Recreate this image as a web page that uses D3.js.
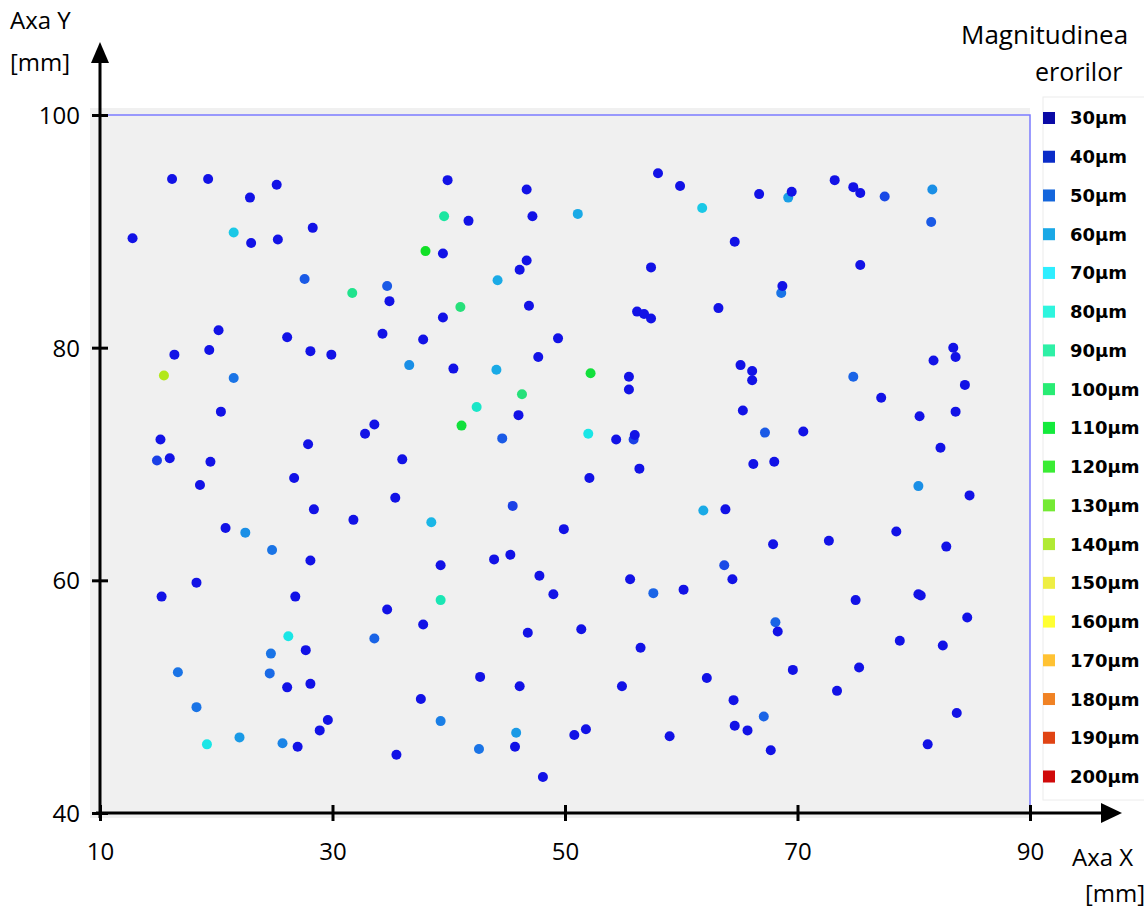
<!DOCTYPE html>
<html>
<head>
<meta charset="utf-8">
<script src="https://cdn.jsdelivr.net/npm/d3@7"></script>
<style>
  html, body { margin: 0; padding: 0; background: #fff; }
  svg { display: block; }
  text { font-family: "Open Sans", sans-serif; fill: #000; }
  .legend-label { font-family: "DejaVu Sans", sans-serif; font-weight: bold; }
</style>
</head>
<body>
<div id="chart"></div>
<script>

var xTicks = [10, 30, 50, 70, 90];
var yTicks = [40, 60, 80, 100];

var legendValues = [30, 40, 50, 60, 70, 80, 90, 100, 110, 120, 130, 140,
  150, 160, 170, 180, 190, 200];
var legendColors = ['#0a0aa6', '#0a2cc8', '#1466dc', '#1aa8e6', '#2eeeff',
  '#2ef5de', '#2ef0a6', '#28ec74', '#14ea3c', '#3aec34', '#74ea34',
  '#b0ea34', '#eeee44', '#ffff33', '#ffc233', '#f08224', '#e04414',
  '#d00a0a'];

// Colours the points are drawn in, keyed by error (µm).
var dotStops = [30, 40, 50, 60, 70, 80, 90, 100, 110, 120, 140, 160, 180,
  200];
var dotColors = ['#1212e6', '#1a40e6', '#1a74e6', '#1aaae6', '#1ae6e6',
  '#1ae6c8', '#1ae6a0', '#26e07a', '#12e03c', '#10e010', '#b2e81a',
  '#ffff30', '#f08020', '#d00000'];

// [x mm, y mm, error µm]
var points = [
  [16.2, 94.5, 30], [19.3, 94.5, 30], [22.9, 92.9, 30], [25.2, 94.0, 30],
  [12.8, 89.4, 30], [21.5, 89.9, 65], [23.0, 89.0, 30], [25.3, 89.3, 30],
  [28.3, 90.3, 30], [27.6, 85.9, 45], [20.2, 81.5, 30], [26.1, 80.9, 30],
  [16.4, 79.4, 30], [19.4, 79.8, 30], [28.1, 79.7, 30], [29.9, 79.4, 30],
  [15.5, 77.6, 140], [21.5, 77.4, 50], [20.4, 74.5, 30], [15.2, 72.1, 30],
  [27.9, 71.7, 30], [14.9, 70.3, 40], [16.0, 70.5, 30], [19.5, 70.2, 30],
  [26.7, 68.8, 30], [18.6, 68.2, 30], [28.4, 66.1, 30], [20.8, 64.5, 30],
  [22.5, 64.1, 55], [24.8, 62.6, 50], [28.1, 61.7, 30], [18.3, 59.8, 30],
  [15.3, 58.6, 30], [26.8, 58.6, 30], [26.2, 55.2, 70], [24.7, 53.7, 50],
  [27.7, 54.0, 30], [16.7, 52.1, 50], [24.6, 52.0, 48], [26.1, 50.8, 30],
  [28.1, 51.1, 30], [18.3, 49.1, 50], [29.6, 48.0, 30], [28.9, 47.1, 30],
  [22.0, 46.5, 57], [19.2, 45.9, 70], [25.7, 46.0, 53], [27.0, 45.7, 30],
  [39.9, 94.4, 30], [46.7, 93.6, 30], [39.6, 91.3, 90], [41.7, 90.9, 30],
  [47.2, 91.3, 30], [38.0, 88.3, 115], [39.5, 88.1, 30], [46.7, 87.5, 30],
  [46.1, 86.7, 30], [44.2, 85.8, 60], [31.7, 84.7, 95], [34.7, 85.3, 45],
  [34.9, 84.0, 30], [41.0, 83.5, 100], [46.9, 83.6, 30], [39.5, 82.6, 30],
  [34.3, 81.2, 30], [37.8, 80.7, 30], [49.4, 80.8, 30], [36.6, 78.5, 55],
  [40.4, 78.2, 30], [44.1, 78.1, 60], [47.7, 79.2, 30], [46.3, 76.0, 100],
  [42.4, 74.9, 80], [46.0, 74.2, 30], [33.6, 73.4, 30], [32.8, 72.6, 30],
  [41.1, 73.3, 110], [44.6, 72.2, 45], [36.0, 70.4, 30], [35.4, 67.1, 30],
  [45.5, 66.4, 40], [31.8, 65.2, 30], [38.5, 65.0, 62], [49.9, 64.4, 30],
  [43.9, 61.8, 30], [45.3, 62.2, 30], [39.3, 61.3, 30], [47.8, 60.4, 30],
  [49.0, 58.8, 30], [39.3, 58.3, 85], [34.7, 57.5, 30], [37.8, 56.2, 30],
  [33.6, 55.0, 47], [46.8, 55.5, 30], [42.7, 51.7, 30], [46.1, 50.9, 30],
  [37.6, 49.8, 30], [39.3, 47.9, 52], [45.8, 46.9, 57], [35.5, 45.0, 30],
  [42.6, 45.5, 50], [45.7, 45.7, 30], [48.1, 43.1, 30],
  [58.0, 95.0, 30], [59.9, 93.9, 30], [51.1, 91.5, 60], [61.8, 92.0, 65],
  [66.7, 93.2, 30], [69.2, 92.9, 58], [69.5, 93.4, 30], [64.6, 89.1, 30],
  [57.4, 86.9, 30], [68.6, 84.7, 50], [68.7, 85.3, 30], [56.2, 83.1, 30],
  [56.8, 82.9, 30], [57.4, 82.5, 30], [63.2, 83.4, 30], [52.2, 77.8, 110],
  [55.5, 77.5, 30], [55.5, 76.4, 30], [65.1, 78.5, 30], [66.1, 78.0, 30],
  [66.1, 77.2, 30], [65.3, 74.6, 30], [52.0, 72.6, 70], [54.4, 72.1, 30],
  [55.9, 72.1, 40], [56.0, 72.5, 30], [67.2, 72.7, 45], [70.5, 72.8, 30],
  [56.4, 69.6, 30], [66.2, 70.0, 30], [68.0, 70.2, 30], [52.1, 68.8, 30],
  [61.9, 66.0, 60], [63.8, 66.1, 30], [67.9, 63.1, 30], [63.7, 61.3, 42],
  [64.4, 60.1, 30], [55.6, 60.1, 30], [57.6, 58.9, 47], [60.2, 59.2, 30],
  [68.1, 56.4, 47], [68.3, 55.6, 30], [51.4, 55.8, 30], [56.5, 54.2, 30],
  [69.6, 52.3, 30], [62.2, 51.6, 30], [54.9, 50.9, 30], [64.5, 49.7, 30],
  [67.1, 48.3, 47], [64.6, 47.5, 30], [65.7, 47.1, 30], [50.8, 46.7, 30],
  [51.8, 47.2, 30], [59.0, 46.6, 30], [67.7, 45.4, 30],
  [73.2, 94.4, 30], [74.8, 93.8, 30], [75.4, 93.3, 30], [77.5, 93.0, 42],
  [81.6, 93.6, 55], [81.5, 90.8, 45], [75.4, 87.1, 30], [83.4, 80.0, 30],
  [83.6, 79.2, 30], [81.7, 78.9, 30], [74.8, 77.5, 47], [84.4, 76.8, 30],
  [77.2, 75.7, 30], [80.5, 74.1, 30], [83.6, 74.5, 30], [82.3, 71.4, 30],
  [80.4, 68.1, 55], [84.8, 67.3, 30], [78.5, 64.2, 30], [72.7, 63.4, 30],
  [82.8, 62.9, 30], [80.4, 58.8, 30], [80.6, 58.7, 30], [75.0, 58.3, 30],
  [84.6, 56.8, 30], [78.8, 54.8, 30], [82.5, 54.4, 30], [75.3, 52.5, 30],
  [73.4, 50.5, 30], [83.7, 48.6, 30], [81.2, 45.9, 30]
];


/**
 * Canvas and scales.
 */
var width = 1144, height = 908;

var x = d3.scaleLinear().domain([10, 90]).range([100, 1030]);
var y = d3.scaleLinear().domain([40, 100]).range([813, 115]);
var color = d3.scaleLinear().domain(dotStops).range(dotColors);

var svg = d3.select('#chart').append('svg')
  .attr('width', width).attr('height', height);


// Plot background + blue frame.
svg.append('rect')
  .attr('x', x(10) - 10).attr('y', y(100) - 7)
  .attr('width', x(90) - x(10) + 10).attr('height', y(40) - y(100) + 12)
  .attr('fill', '#f0f0f0');

svg.append('rect')
  .attr('x', x(10)).attr('y', y(100))
  .attr('width', x(90) - x(10)).attr('height', y(40) - y(100))
  .attr('fill', 'none').attr('stroke', '#7b7bff').attr('stroke-width', 1.5);


// Points.
svg.append('g').selectAll('circle')
  .data(points)
  .enter().append('circle')
  .attr('cx', function(d) { return x(d[0]); })
  .attr('cy', function(d) { return y(d[1]); })
  .attr('r', 5)
  .attr('fill', function(d) { return color(d[2]); });


/**
 * Axes: thick black lines with arrow heads, ticks crossing the line.
 */
var xAxis = svg.append('g')
  .attr('transform', 'translate(0,' + y(40) + ')')
  .call(d3.axisBottom(x).tickValues(xTicks).tickSize(8).tickPadding(22)
    .tickFormat(d3.format('d')));

var yAxis = svg.append('g')
  .attr('transform', 'translate(' + x(10) + ',0)')
  .call(d3.axisLeft(y).tickValues(yTicks).tickSize(8).tickPadding(12)
    .tickFormat(d3.format('d')));

[xAxis, yAxis].forEach(function(g) {
  g.select('.domain').remove();
  g.selectAll('.tick line').attr('stroke', '#000').attr('stroke-width', 3);
  g.selectAll('.tick text')
    .style('font-family', '"Open Sans", sans-serif')
    .style('font-size', '24px').attr('fill', '#000');
});
xAxis.selectAll('.tick line').attr('y1', -8).attr('y2', 8);
yAxis.selectAll('.tick line').attr('x1', -8).attr('x2', 8);
yAxis.selectAll('.tick text').attr('dy', '0.36em');

svg.append('line')
  .attr('x1', x(10) - 4).attr('x2', 1106)
  .attr('y1', y(40)).attr('y2', y(40))
  .attr('stroke', '#000').attr('stroke-width', 3);
svg.append('path')
  .attr('d', 'M1122,' + y(40) + 'L1101,' + (y(40) - 10) + 'L1101,' +
    (y(40) + 10) + 'Z')
  .attr('fill', '#000');

svg.append('line')
  .attr('x1', x(10)).attr('x2', x(10))
  .attr('y1', y(40) + 5).attr('y2', 58)
  .attr('stroke', '#000').attr('stroke-width', 3);
svg.append('path')
  .attr('d', 'M' + x(10) + ',42L' + (x(10) - 9) + ',63L' + (x(10) + 9) +
    ',63Z')
  .attr('fill', '#000');


// Axis titles.
svg.append('text').attr('x', 10).attr('y', 29)
  .style('font-size', '24px').text('Axa Y');
svg.append('text').attr('x', 10).attr('y', 71)
  .style('font-size', '24px').text('[mm]');
svg.append('text').attr('x', 1072).attr('y', 866)
  .style('font-size', '24px').text('Axa X');
svg.append('text').attr('x', 1085).attr('y', 902)
  .style('font-size', '24px').text('[mm]');


/**
 * Legend.
 */
svg.append('rect')
  .attr('x', 1043).attr('y', 97).attr('width', 110).attr('height', 703)
  .attr('fill', 'none').attr('stroke', '#ececec');

svg.append('text').attr('x', 961).attr('y', 44)
  .style('font-size', '26px').text('Magnitudinea');
svg.append('text').attr('x', 1035).attr('y', 81)
  .style('font-size', '25px').text('erorilor');

var legend = d3.scalePoint().domain(legendValues).range([118, 776.5]);

var item = svg.append('g').selectAll('g')
  .data(legendValues)
  .enter().append('g')
  .attr('transform', function(d) {
    return 'translate(1043,' + legend(d) + ')';
  });

item.append('rect')
  .attr('x', 0).attr('y', -6).attr('width', 12).attr('height', 12)
  .attr('fill', function(d, i) { return legendColors[i]; });

item.append('text')
  .attr('class', 'legend-label')
  .attr('x', 27).attr('dy', '0.36em')
  .style('font-size', '18px')
  .text(function(d) { return d + 'µm'; });

</script>
</body>
</html>
